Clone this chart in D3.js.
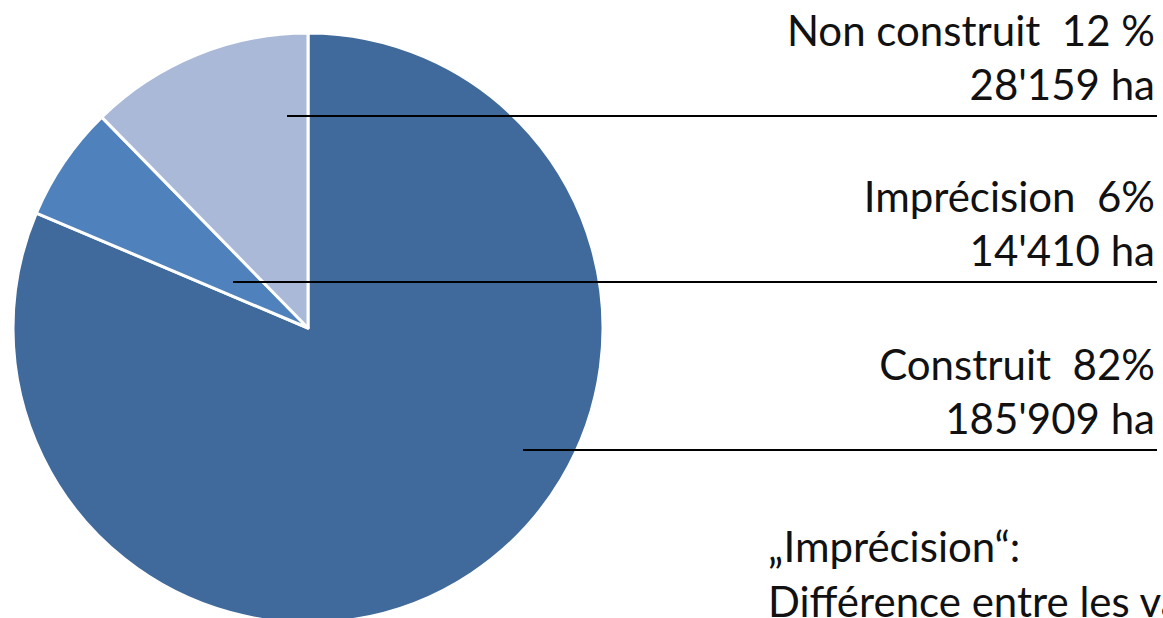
<!DOCTYPE html>
<html>
<head>
<meta charset="utf-8">
<script src="https://cdn.jsdelivr.net/npm/d3@7"></script>
<style>
  html, body { margin: 0; padding: 0; background: #fff; overflow: hidden; }
  text { font-family: Lato, "Open Sans", sans-serif; fill: #111; white-space: pre; }
</style>
</head>
<body>
<div id="chart"></div>
<script>
// data
const categories = ['Construit', 'Imprécision', 'Non construit'];
const areas = [185909, 14410, 28159];
const pctLabels = ['82%', '6%', '12 %'];
const areaLabels = ["185'909 ha", "14'410 ha", "28'159 ha"];
const colors = ['#406a9b', '#4f81bd', '#aab9d7'];

const width = 1163;
const height = 618;
const cx = 308, cy = 328, radius = 295;

const svg = d3.select('#chart')
  .append('svg')
  .attr('width', width)
  .attr('height', height);

const pie = d3.pie().sort(null).value(d => d)(areas);
const arc = d3.arc().innerRadius(0).outerRadius(radius);

const g = svg.append('g').attr('transform', `translate(${cx},${cy})`);

g.selectAll('path')
  .data(pie)
  .enter()
  .append('path')
  .attr('d', arc)
  .attr('fill', (d, i) => colors[i])
  .attr('stroke', '#fff')
  .attr('stroke-width', 3)
  .attr('stroke-linejoin', 'round');

// label layout (leader line y, leader start x)
const labelLayout = [
  { y: 450, x0: 523 },
  { y: 282, x0: 233 },
  { y: 116, x0: 287 }
];
const textRight = 1155;

const labels = svg.append('g');
categories.forEach((c, i) => {
  const l = labelLayout[i];
  labels.append('line')
    .attr('x1', l.x0).attr('x2', 1157)
    .attr('y1', l.y).attr('y2', l.y)
    .attr('stroke', '#000')
    .attr('stroke-width', 2);
  labels.append('text')
    .attr('x', textRight).attr('y', l.y - 70)
    .attr('text-anchor', 'end')
    .attr('font-size', 42)
    .text(c + '  ' + pctLabels[i]);
  labels.append('text')
    .attr('x', textRight).attr('y', l.y - 16)
    .attr('text-anchor', 'end')
    .attr('font-size', 42)
    .text(areaLabels[i]);
});

// footnote, clipped at the right edge as in the original
svg.append('text')
  .attr('x', 768).attr('y', 562)
  .attr('font-size', 42)
  .text('„Imprécision“:');
svg.append('text')
  .attr('x', 768).attr('y', 617)
  .attr('font-size', 42)
  .text('Différence entre les valeurs');
</script>
</body>
</html>
